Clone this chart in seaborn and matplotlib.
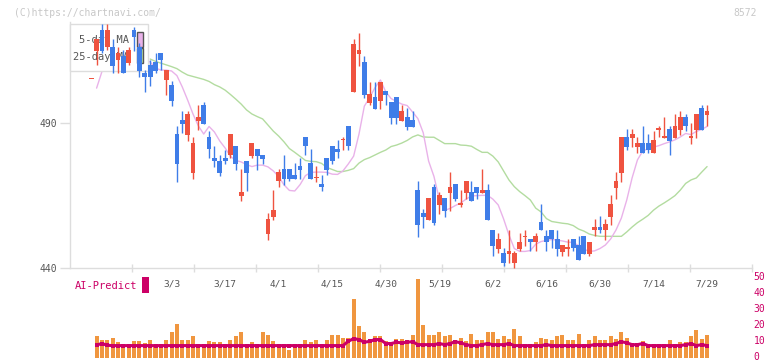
import numpy as np
import pandas as pd
import matplotlib
matplotlib.use("Agg")
import matplotlib.pyplot as plt
import matplotlib.transforms as mtransforms
from matplotlib.patches import Rectangle
import seaborn as sns

# ---------------- data ----------------
candle_idx = list(range(-1, 115))
opens = [505.0,
 514.8, 521.9, 515.9, 515.9, 511.6, 512.9, 510.4, 521.9, 515.9, 507.2,
 509.9, 510.9, 514.1, 504.7, 503.1, 486.1, 490.9, 485.9, 472.7, 490.7,
 496.0, 485.1, 477.9, 476.7, 477.9, 478.8, 482.0, 464.9, 476.7, 478.6,
 480.9, 478.9, 451.8, 457.6, 469.8, 474.1, 474.1, 471.9, 475.0, 485.1,
 476.1, 470.8, 468.9, 477.9, 482.0, 480.9, 483.9, 489.0, 500.6, 513.7,
 510.9, 496.8, 498.8, 497.6, 500.8, 497.1, 498.8, 490.7, 492.0, 491.0,
 466.7, 458.9, 456.6, 467.8, 461.8, 464.1, 465.8, 468.9, 461.8, 465.8,
 466.2, 467.8, 465.8, 466.8, 453.0, 446.6, 445.1, 444.9, 441.7, 446.6,
 450.7, 450.0, 448.8, 455.8, 450.9, 453.0, 450.0, 445.5, 446.7, 450.0,
 447.8, 450.9, 444.9, 453.0, 454.1, 453.0, 457.6, 467.5, 472.7, 485.1,
 484.7, 481.6, 483.0, 483.0, 479.6, 487.6, 484.9, 487.8, 484.7, 487.6,
 492.0, 484.9, 487.6, 495.1, 492.8]
highs = [505.0,
 518.7, 524.0, 524.0, 518.8, 516.0, 515.0, 516.2, 523.0, 517.3, 508.1,
 511.6, 514.0, 514.1, 508.1, 504.3, 489.0, 493.9, 493.9, 485.0, 496.0,
 497.1, 487.0, 481.9, 478.8, 480.7, 486.1, 482.0, 474.1, 476.7, 483.0,
 480.9, 478.9, 458.9, 466.7, 474.1, 478.9, 474.1, 476.1, 477.9, 485.1,
 480.9, 475.0, 471.9, 477.9, 482.0, 484.0, 485.1, 489.0, 518.8, 520.9,
 512.8, 504.0, 504.0, 504.0, 500.8, 497.1, 498.8, 496.0, 495.1, 493.9,
 469.8, 460.2, 464.1, 468.9, 466.2, 464.1, 473.0, 468.9, 466.8, 469.8,
 469.8, 467.8, 474.1, 468.9, 453.0, 452.0, 446.9, 453.0, 445.7, 452.0,
 453.0, 450.0, 452.0, 462.0, 453.0, 453.0, 453.0, 447.8, 450.0, 450.0,
 450.9, 450.9, 448.9, 456.9, 457.8, 456.9, 465.0, 473.0, 485.1, 487.8,
 487.8, 485.1, 489.0, 486.1, 487.0, 489.0, 492.0, 489.0, 493.0, 493.9,
 493.0, 489.9, 493.0, 496.0, 496.0]
lows = [505.0,
 509.8, 514.1, 515.0, 507.0, 507.1, 507.0, 509.8, 514.8, 505.8, 500.7,
 502.6, 507.1, 508.1, 499.5, 495.9, 469.6, 486.5, 483.8, 470.6, 487.6,
 489.7, 477.9, 474.6, 471.8, 475.9, 477.9, 473.8, 462.9, 466.6, 477.9,
 473.8, 475.9, 449.7, 456.6, 467.8, 468.7, 469.8, 470.7, 470.7, 478.8,
 470.7, 469.6, 466.6, 471.9, 475.9, 477.9, 480.7, 480.7, 500.6, 509.6,
 498.5, 496.0, 494.8, 494.8, 496.0, 489.5, 489.5, 490.7, 487.6, 488.5,
 450.7, 453.8, 456.6, 454.9, 458.7, 457.6, 459.7, 462.9, 460.9, 463.7,
 462.9, 463.8, 465.8, 456.6, 444.0, 445.2, 440.6, 441.7, 440.0, 445.7,
 447.7, 445.7, 445.7, 453.0, 445.7, 446.9, 444.0, 444.0, 444.0, 445.7,
 442.9, 444.9, 444.0, 450.9, 452.0, 449.7, 454.9, 463.8, 469.6, 480.7,
 481.6, 479.6, 479.6, 479.6, 479.6, 485.1, 484.9, 478.8, 484.7, 485.9,
 487.0, 482.7, 484.7, 487.6, 488.8]
closes = [505.0,
 518.7, 514.8, 521.9, 509.6, 513.9, 507.0, 515.0, 519.6, 507.8, 505.8,
 505.8, 507.8, 511.6, 508.1, 497.6, 475.9, 489.7, 493.1, 483.0, 492.0,
 489.7, 480.8, 476.7, 472.7, 476.7, 486.1, 475.9, 466.2, 472.7, 483.0,
 478.6, 477.6, 456.9, 459.8, 473.0, 470.7, 470.7, 470.7, 473.8, 481.9,
 470.7, 471.0, 467.8, 473.8, 476.7, 479.8, 484.1, 481.9, 517.1, 515.0,
 499.6, 499.9, 494.8, 504.0, 499.6, 491.6, 491.6, 493.9, 488.5, 488.5,
 454.9, 457.6, 464.1, 455.5, 465.0, 459.7, 467.9, 463.8, 462.0, 469.8,
 462.9, 465.8, 466.8, 456.6, 447.7, 450.1, 441.7, 445.9, 445.1, 448.9,
 450.9, 448.8, 450.9, 453.0, 448.8, 450.0, 446.6, 447.8, 446.9, 446.9,
 442.9, 444.9, 448.9, 454.1, 453.0, 455.1, 462.0, 469.8, 485.1, 481.6,
 486.1, 483.0, 479.6, 480.7, 484.1, 487.8, 485.1, 483.8, 489.0, 492.0,
 488.8, 485.1, 493.0, 487.6, 493.9]

ma5_idx = list(range(0, 115))
ma5 = [501.9, 507.6, 513.3, 515.0, 515.7, 513.5, 513.5, 512.9, 512.6, 511.6,
 510.9, 508.8, 508.1, 508.1, 507.8, 506.2, 502.3, 497.8, 493.0, 488.9,
 486.1, 488.7, 486.8, 483.7, 481.3, 478.4, 477.0, 476.5, 475.6, 474.9,
 475.4, 475.4, 474.8, 473.4, 471.5, 468.6, 466.7, 466.5, 468.7, 471.8,
 472.9, 473.0, 473.0, 472.9, 472.3, 472.2, 473.4, 475.8, 478.5, 486.1,
 495.7, 498.7, 502.1, 504.7, 500.6, 498.3, 497.3, 496.4, 495.9, 493.7,
 491.4, 486.5, 476.8, 471.5, 463.6, 459.8, 460.5, 461.5, 462.4, 463.7,
 464.8, 464.9, 465.0, 465.0, 463.7, 461.7, 456.9, 451.4, 446.7, 445.7,
 445.7, 446.0, 448.2, 449.1, 449.5, 449.8, 449.6, 449.3, 448.9, 448.8,
 447.7, 446.5, 445.7, 445.9, 446.7, 447.9, 450.0, 453.1, 457.2, 463.4,
 471.0, 477.2, 480.3, 481.0, 481.6, 482.1, 482.8, 483.4, 484.1, 485.1,
 486.3, 485.9, 487.0, 487.7, 488.7]

ma25_idx = list(range(10, 115))
ma25 = [511.9, 511.1, 510.5, 509.9, 509.3, 508.6, 507.4, 506.4, 505.9, 505.4,
 504.9, 504.2, 503.1, 502.3, 501.2, 499.7, 498.1, 496.4, 494.4, 493.0,
 492.1, 491.3, 489.2, 487.1, 485.4, 483.4, 481.1, 479.8, 478.4, 477.0,
 476.7, 476.6, 476.0, 474.6, 473.9, 473.2, 473.2, 473.6, 474.2, 476.1,
 477.3, 478.0, 478.9, 479.8, 480.6, 481.8, 482.3, 483.0, 483.9, 485.1,
 485.8, 485.1, 485.0, 485.0, 483.9, 482.8, 482.8, 482.8, 482.3, 482.2,
 481.9, 480.8, 479.8, 479.8, 478.5, 476.5, 473.4, 470.3, 468.0, 466.3,
 464.9, 463.4, 460.6, 459.3, 457.0, 456.0, 455.7, 455.4, 455.2, 454.6,
 453.4, 452.7, 451.7, 451.2, 450.9, 450.9, 450.9, 450.9, 450.9, 452.4,
 454.1, 455.6, 456.8, 458.1, 459.9, 461.3, 462.4, 463.6, 464.9, 466.8,
 469.1, 470.3, 471.0, 473.0, 474.9]

vol_idx = list(range(0, 115))
volume = [13.6, 11.6, 11.6, 12.8, 9.9, 7.8, 7.4, 10.5, 10.5, 9.3,
 11.1, 7.8, 7.8, 11.6, 16.1, 21.6, 11.6, 11.1, 14.1, 7.8,
 6.1, 10.5, 9.9, 9.9, 7.8, 11.1, 14.1, 16.1, 9.1, 9.9,
 9.1, 16.6, 14.7, 10.5, 9.1, 7.0, 4.9, 7.8, 6.1, 11.1,
 9.9, 11.1, 7.8, 11.6, 14.7, 14.7, 12.4, 12.8, 37.2, 19.9,
 16.1, 12.2, 13.6, 14.1, 10.5, 9.5, 12.2, 12.2, 11.6, 14.7,
 49.7, 20.9, 14.7, 14.7, 16.6, 14.1, 14.7, 11.6, 12.8, 10.5,
 15.3, 11.1, 11.6, 16.1, 16.6, 12.2, 14.1, 12.2, 18.4, 14.1,
 9.1, 7.8, 9.9, 12.8, 12.2, 11.1, 14.1, 14.7, 11.1, 11.1,
 15.3, 7.8, 11.1, 14.1, 11.6, 11.1, 13.6, 12.2, 16.1, 12.8,
 9.1, 9.1, 10.5, 7.8, 7.8, 7.8, 7.8, 11.6, 9.1, 9.9,
 9.9, 14.1, 17.3, 12.2, 14.7]
ai_predict = [8.2, 9.1, 8.0] + [7.8] * 44 + [
 10.5, 12.2, 11.6, 9.9, 10.5, 11.6, 11.6, 9.1, 9.1, 9.9,
 9.5, 9.9, 10.3, 8.4, 8.4, 8.4, 8.4, 9.1, 8.4, 9.1,
 10.3, 9.5, 8.4, 7.8, 7.8, 8.4, 9.1, 8.4, 8.4, 8.4,
 9.1, 7.8, 7.8, 7.8, 7.8, 7.8, 7.8, 8.4, 7.8, 7.8,
 7.8, 7.8, 7.8, 7.8, 7.8, 7.8, 8.4, 8.4, 8.4, 8.4,
 9.1, 10.3, 9.5, 8.4, 8.4, 9.1, 7.8, 7.8, 7.8, 7.8,
 7.8, 7.8, 7.8, 8.4, 9.1, 7.8, 8.4, 7.8]

date_labels = ["3/3", "3/17", "4/1", "4/15", "4/30", "5/19",
               "6/2", "6/16", "6/30", "7/14", "7/29"]
date_label_idx = [14, 24, 34, 44, 54, 64, 74, 84, 94, 104, 114]
price_ticks = [440, 490]
vol_ticks = [0, 10, 20, 30, 40, 50]

# ---------------- style ----------------
sns.set_style("white")
plt.rcParams['font.family'] = ['DejaVu Sans Mono', 'DejaVu Sans']

RED = '#EF5340'
BLUE = '#3F7DE8'
PINK = '#E9B2E9'
GREEN = '#B3DCA0'
ORANGE = '#F0963F'
CRIMSON = '#CC0066'
GRID = '#DDDDDD'
TXT = '#555555'

W, H = 772, 361
fig = plt.figure(figsize=(W / 100, H / 100), dpi=100)

PX0, PX_STEP = 96.6, 5.355
xl = (70 - PX0) / PX_STEP
xr = (752 - PX0) / PX_STEP

top_px, bot_px = 22, 268
ax = fig.add_axes([70 / W, 1 - bot_px / H, 682 / W, (bot_px - top_px) / H])
ax.set_xlim(xl, xr)
ax.set_ylim(440, 440 + (bot_px - top_px) / 2.906)

# moving averages (below legend box)
sns.lineplot(x=ma25_idx, y=ma25, ax=ax, color=GREEN, lw=1.0, zorder=2, legend=False)
sns.lineplot(x=ma5_idx, y=ma5, ax=ax, color=PINK, lw=1.0, zorder=2, legend=False)

# legend box
box = Rectangle((70 / W, 1 - 71 / H), 78 / W, 47 / H, transform=fig.transFigure,
                facecolor='white', edgecolor=GRID, lw=1.0, zorder=3, clip_on=False)
ax.add_patch(box)
ax.text(129 / W, 1 - 40 / H, "5-day MA", transform=fig.transFigure, ha='right',
        va='center', fontsize=7.5, color=TXT, zorder=3.2)
ax.text(129 / W, 1 - 57 / H, "25-day MA", transform=fig.transFigure, ha='right',
        va='center', fontsize=7.5, color=TXT, zorder=3.2)
ax.add_patch(Rectangle((137 / W, 1 - 47 / H), 6 / W, 15 / H, transform=fig.transFigure,
                       facecolor=PINK, edgecolor='#555555', lw=1.0, zorder=3.3, clip_on=False))
ax.add_patch(Rectangle((137 / W, 1 - 63 / H), 6 / W, 15 / H, transform=fig.transFigure,
                       facecolor=GREEN, edgecolor='#555555', lw=1.0, zorder=3.3, clip_on=False))

# candles
df = pd.DataFrame({'i': candle_idx, 'o': opens, 'h': highs, 'l': lows, 'c': closes})
df['up'] = df['c'] >= df['o']
df['col'] = np.where(df['up'], RED, BLUE)
df['bot'] = df[['o', 'c']].min(axis=1)
df['ht'] = (df['c'] - df['o']).abs().clip(lower=0.45)
ax.vlines(df['i'], df['l'], df['h'], colors=df['col'], lw=1.0, zorder=4, clip_on=False)
ax.bar(df['i'], df['ht'], bottom=df['bot'], width=0.9, color=df['col'],
       linewidth=0, zorder=5, clip_on=False)

for s in ['top', 'right']:
    ax.spines[s].set_visible(False)
for s in ['left', 'bottom']:
    ax.spines[s].set_color(GRID)
    ax.spines[s].set_linewidth(1.0)

ax.set_yticks(price_ticks)
ax.set_yticklabels([str(t) for t in price_ticks])
ax.tick_params(axis='y', length=7, width=1, color=GRID, labelcolor=TXT,
               labelsize=7, pad=2, direction='out', left=True)
ax.set_xticks(date_label_idx)
ax.set_xticklabels(date_labels)
ax.tick_params(axis='x', which='major', length=0, labelcolor=TXT, labelsize=6.8, pad=8)
ax.set_xticks(np.linspace(xl, xr, 12)[1:], minor=True)
ax.tick_params(axis='x', which='minor', length=6, width=1, color=GRID,
               direction='inout', bottom=True)
ax.set_xlabel('')
ax.set_ylabel('')
ax.grid(False)

# lower panel
vb_top, vb_bot = 275, 358
ax2 = fig.add_axes([70 / W, 1 - vb_bot / H, 682 / W, (vb_bot - vb_top) / H])
ax2.set_facecolor('none')
ax2.set_xlim(xl, xr)
ax2.set_ylim(0, (vb_bot - vb_top) / 1.59)
ax2.bar(vol_idx, volume, width=0.75, color=ORANGE, linewidth=0, zorder=2)
sns.lineplot(x=vol_idx, y=ai_predict, ax=ax2, color=CRIMSON, lw=2.2, marker='s',
             markersize=3, markeredgewidth=0, zorder=3, legend=False)
for s in ax2.spines.values():
    s.set_visible(False)
ax2.set_xticks([])
ax2.yaxis.tick_right()
ax2.set_yticks(vol_ticks)
ax2.set_yticklabels([str(t) for t in vol_ticks])
ax2.tick_params(axis='y', length=0, labelcolor=CRIMSON, labelsize=7, pad=1,
                right=True, left=False)
shift_up = mtransforms.ScaledTranslation(0, 2.5 / 100, fig.dpi_scale_trans)
for lab in ax2.get_yticklabels():
    lab.set_transform(lab.get_transform() + shift_up)
ax2.set_xlabel('')
ax2.set_ylabel('')
ax2.grid(False)

fig.text(75 / W, 1 - 286 / H, "AI-Predict", color=CRIMSON, fontsize=7.5,
         ha='left', va='center')
fig.patches.append(Rectangle((142 / W, 1 - 293 / H), 7 / W, 16 / H,
                             transform=fig.transFigure, facecolor=CRIMSON,
                             edgecolor='none', figure=fig))

fig.text(14 / W, 1 - 12.5 / H, "(C)https://chartnavi.com/", color='#C8C8C8',
         fontsize=7, ha='left', va='center')
fig.text(757 / W, 1 - 12.5 / H, "8572", color='#C8C8C8', fontsize=7,
         ha='right', va='center')

fig.savefig("out.png", dpi=100)
